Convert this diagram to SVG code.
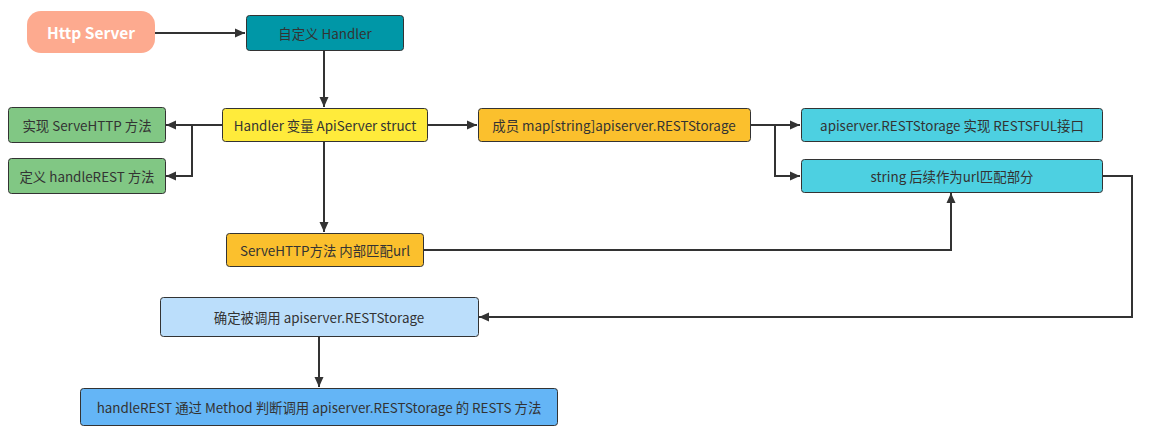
<svg xmlns="http://www.w3.org/2000/svg" width="1149" height="433" viewBox="0 0 1149 433">
<defs>
<marker id="arr" viewBox="0 0 10 10" refX="10" refY="5" markerWidth="10" markerHeight="10" markerUnits="userSpaceOnUse" orient="auto">
<path d="M0,0.5 L10,5 L0,9.5 Z" fill="#333333"/>
</marker>
<style>
.box{stroke:#333333;stroke-width:1}
.t{font-family:"Noto Sans CJK SC","Noto Sans",sans-serif;font-size:13.4px;fill:#333333;text-anchor:middle;dominant-baseline:central}
.c{fill:none;stroke:#333333;stroke-width:2;marker-end:url(#arr)}
</style>
</defs>
<rect width="1149" height="433" fill="#ffffff"/>
<g id="connectors">
<path class="c" d="M155,33 L245,33"/>
<path class="c" d="M324,50 L324,107"/>
<path class="c" d="M222,125 L166,125"/>
<path class="c" d="M192,125 L192,176 L166,176"/>
<path class="c" d="M427,125 L477,125"/>
<path class="c" d="M750,125 L800,125"/>
<path class="c" d="M775,125 L775,176 L800,176"/>
<path class="c" d="M324,141 L324,232"/>
<path class="c" d="M423,250 L951,250 L951,193"/>
<path class="c" d="M1103,176 L1132,176 L1132,317 L479,317"/>
<path class="c" d="M319,336 L319,387"/>
</g>
<g id="http-server">
<rect x="27" y="11" width="128" height="42" rx="14" fill="#FDAA8F"/>
<text class="t" x="91" y="32" style="fill:#ffffff;font-size:15.5px;font-weight:bold">Http Server</text>
</g>
<g id="custom-handler">
<rect class="box" x="246.5" y="15.5" width="157" height="35" rx="3" fill="#0097A7"/>
<text class="t" x="325" y="33">自定义 Handler</text>
</g>
<g id="handler-var">
<rect class="box" x="222.5" y="108.5" width="205" height="33" rx="3" fill="#FFEB3B"/>
<text class="t" x="325" y="125">Handler 变量 ApiServer struct</text>
</g>
<g id="impl-servehttp">
<rect class="box" x="8.5" y="107.5" width="157" height="35" rx="3" fill="#81C784"/>
<text class="t" x="87" y="125">实现 ServeHTTP 方法</text>
</g>
<g id="def-handlerest">
<rect class="box" x="8.5" y="158.5" width="157" height="35" rx="3" fill="#81C784"/>
<text class="t" x="87" y="176">定义 handleREST 方法</text>
</g>
<g id="member-map">
<rect class="box" x="478.5" y="108.5" width="272" height="33" rx="3" fill="#FBC02D"/>
<text class="t" x="614" y="125">成员 map[string]apiserver.RESTStorage</text>
</g>
<g id="reststorage-impl">
<rect class="box" x="801.5" y="108.5" width="301" height="33" rx="3" fill="#4DD0E1"/>
<text class="t" x="952" y="125">apiserver.RESTStorage 实现 RESTSFUL接口</text>
</g>
<g id="string-url">
<rect class="box" x="801.5" y="159.5" width="301" height="33" rx="3" fill="#4DD0E1"/>
<text class="t" x="952" y="176">string 后续作为url匹配部分</text>
</g>
<g id="servehttp-match">
<rect class="box" x="226.5" y="233.5" width="197" height="33" rx="3" fill="#FBC02D"/>
<text class="t" x="325" y="250">ServeHTTP方法 内部匹配url</text>
</g>
<g id="determine-storage">
<rect class="box" x="160.5" y="297.5" width="318" height="39" rx="3" fill="#BBDEFB"/>
<text class="t" x="319" y="317">确定被调用 apiserver.RESTStorage</text>
</g>
<g id="handlerest-method">
<rect class="box" x="80.5" y="388.5" width="477" height="37" rx="3" fill="#64B5F6"/>
<text class="t" x="319" y="407">handleREST 通过 Method 判断调用 apiserver.RESTStorage 的 RESTS 方法</text>
</g>
</svg>
